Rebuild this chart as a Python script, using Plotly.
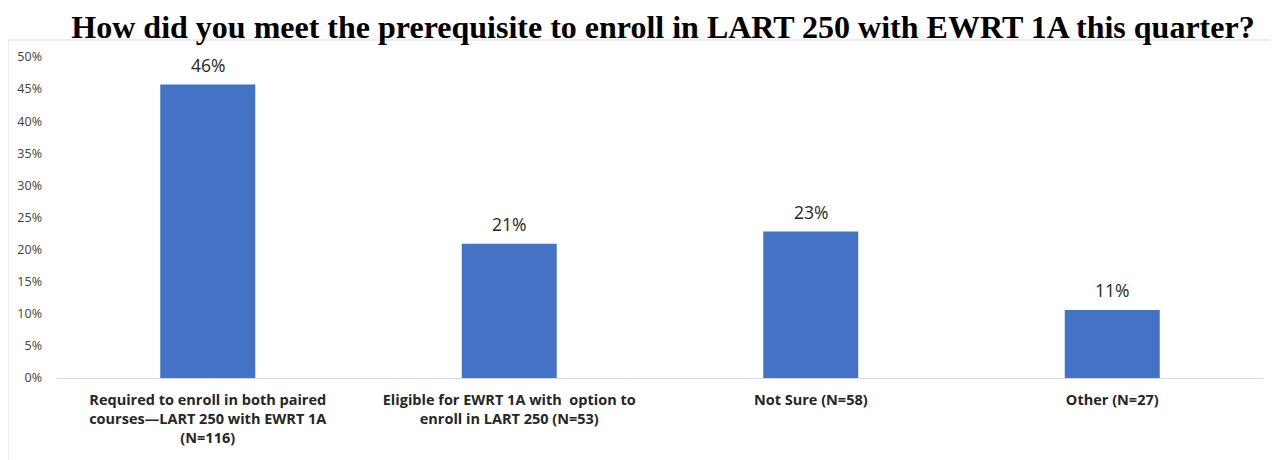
import plotly.graph_objects as go

categories = [
    "Required to enroll in both paired<br>courses\u2014LART 250 with EWRT 1A<br>(N=116)",
    "Eligible for EWRT 1A with  option to<br>enroll in LART 250 (N=53)",
    "Not Sure (N=58)",
    "Other (N=27)",
]
values = [45.7, 20.9, 22.8, 10.6]
labels = ["46%", "21%", "23%", "11%"]
tick_vals = [0, 5, 10, 15, 20, 25, 30, 35, 40, 45, 50]
tick_text = [f"{v}%" for v in tick_vals]

# page body has an 8px offset; compensate so the visible result matches
OFF = 8
W, H = 1279 - OFF, 460 - OFF
ml, mt, mb = 57 - OFF, 57 - OFF, 82
mr = W - (1263 - OFF)

fig = go.Figure(go.Bar(
    x=categories, y=values,
    marker=dict(color="#4472C4", line=dict(width=0)),
))

for c, v, t in zip(categories, values, labels):
    fig.add_annotation(x=c, y=v, text=t, showarrow=False, yanchor="bottom", yshift=6,
                       font=dict(family="Open Sans, sans-serif", size=17.5, color="#262626"))

pw = W - ml - mr
ph = H - mt - mb
fig.add_shape(type="rect", xref="paper", yref="paper",
              x0=(8 - 57) / pw, x1=(W + 5 - ml) / pw,
              y0=-(mb + 5) / ph, y1=1 + (57 - 40) / ph,
              line=dict(color="#d9d9d9", width=1), fillcolor="rgba(0,0,0,0)", layer="below")

fig.update_layout(
    width=W, height=H,
    margin=dict(l=ml, r=mr, t=mt, b=mb, autoexpand=False),
    paper_bgcolor="white", plot_bgcolor="white",
    bargap=0.685,
    showlegend=False,
    title=dict(text="<b>How did you meet the prerequisite to enroll in LART 250 with EWRT 1A this quarter?</b>",
               font=dict(family="Liberation Serif, serif", size=32, color="black"),
               x=(663 - OFF) / W, xanchor="center", y=1 - 8 / H, yanchor="top", pad=dict(t=0)),
    yaxis=dict(range=[0, 50], tickvals=tick_vals, ticktext=tick_text, showgrid=False,
               zeroline=False, showline=False, ticks="",
               tickfont=dict(family="Open Sans, sans-serif", size=12.5, color="#404040"),
               ticklabelstandoff=14),
    xaxis=dict(showline=True, linecolor="#d9d9d9", linewidth=1, ticks="", showgrid=False,
               tickfont=dict(family="Open Sans, sans-serif", size=14.5, color="#262626", weight="bold"),
               ticklabelstandoff=9, automargin=False),
)

fig.write_html("out.html")
